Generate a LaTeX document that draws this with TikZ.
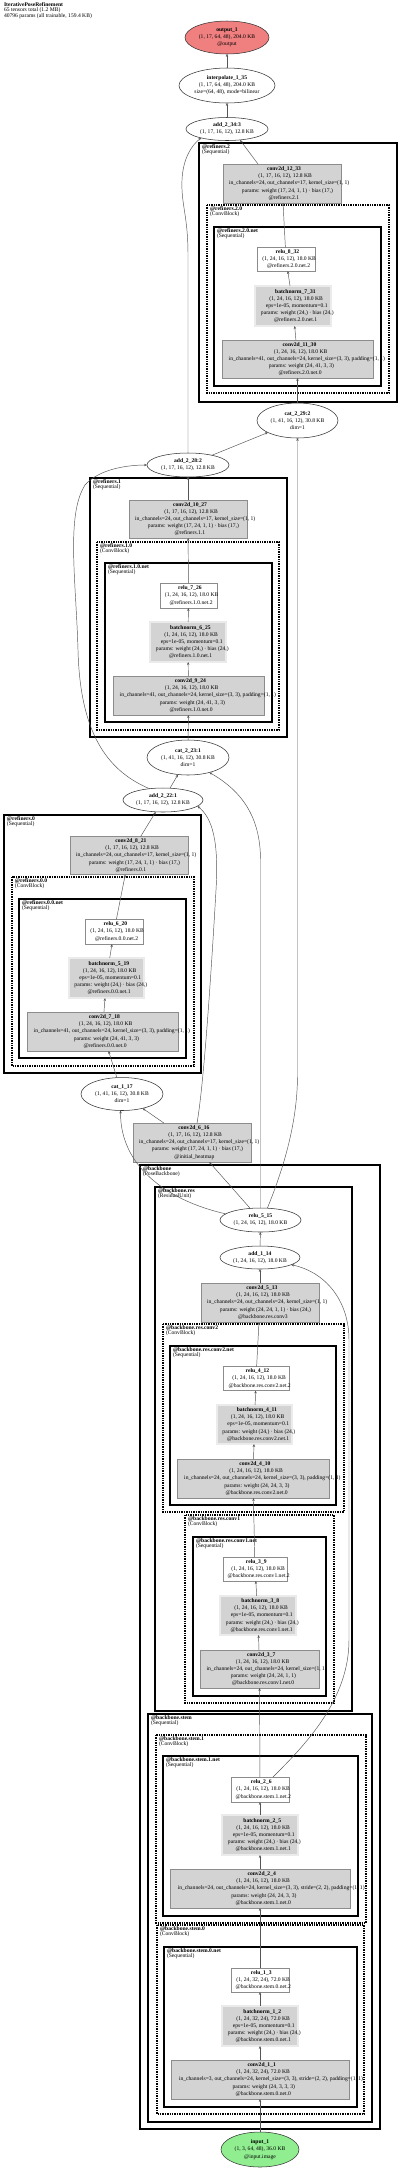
\documentclass[tikz,border=0pt]{standalone}
\usepackage{fontspec}
\setmainfont{Liberation Serif}
\usetikzlibrary{shapes.geometric,arrows.meta,calc}
\definecolor{lgray}{HTML}{D3D3D3}
\definecolor{bdgray}{HTML}{8C8C8C}
\definecolor{edgec}{HTML}{555555}
\definecolor{outred}{HTML}{F08080}
\definecolor{ingreen}{HTML}{90EE90}
\newsavebox\lnbox
\newcommand\Ln[1]{\sbox\lnbox{#1}\makebox[0pt][l]{\hspace{-0.44\wd\lnbox}\usebox\lnbox}}
\newcommand\Lc[1]{\makebox[0pt][c]{#1}}
\newcommand\nfs{\fontsize{4.2}{5.35}\selectfont}
\newcommand\lfs{\fontsize{4.2}{4}\selectfont}
\newcommand\five[5]{\Ln{\textbf{#1}}\\\Ln{#2}\\\Ln{#3}\\\Ln{#4}\\\Ln{#5}}
\newcommand\three[3]{\Ln{\textbf{#1}}\\\Ln{#2}\\\Ln{#3}}
\newcommand\bnt[3]{\five{#1}{#2}{eps=1e-05, momentum=0.1}{params: weight (24,) · bias (24,)}{#3}}
\newcommand\clus[8]{\draw[#6] (#2,#3) rectangle (#4,#5); \node[clabel] (#1) at (#2+3,#3+1.5) {\textbf{#7}\\#8};}
\tikzset{
  every node/.style={font=\nfs, inner sep=0pt, outer sep=0pt},
  sz/.style 2 args={minimum width=#1*0.75pt, minimum height=#2*0.75pt},
  gbox/.style={rectangle, draw=bdgray, fill=lgray, line width=0.5pt, align=center},
  wbox/.style={rectangle, draw=bdgray, fill=white, line width=0.5pt, align=center},
  bnbox/.style={gbox, draw=bdgray!85!black, double=lgray!45, double distance=0.9pt, line width=0.5pt},
  ell/.style={ellipse, draw=black!80, fill=white, line width=0.4pt, align=center},
  seqtop/.style={draw=black, line width=1.4pt},
  seq/.style={draw=black, line width=0.95pt},
  cblk/.style={draw=black, line width=0.9pt, dash pattern=on 1.1pt off 0.7pt},
  clabel/.style={anchor=north west, align=left, font=\lfs},
  edge/.style={draw=edgec, line width=0.35pt, -{Stealth[length=2.2pt,width=1.8pt]}},
}
\begin{document}
\begin{tikzpicture}[x=0.75pt, y=-0.75pt]
\fill[white] (0,0) rectangle (400,2168);
\useasboundingbox (0,0) rectangle (400,2168);

\node[anchor=north west, align=left, font=\fontsize{4.2}{3.8}\selectfont] (title) at (4,2.2)
  {\textbf{IterativePoseRefinement}\\65 tensors total (1.2 MB)\\40796 params (all trainable, 159.4 KB)};

% clusters
\clus{cR2}{199}{143}{397}{402}{seqtop}{@refiners.2}{(Sequential)}
\clus{cR20}{207}{205}{389}{393}{cblk}{@refiners.2.0}{(ConvBlock)}
\clus{cR20n}{214}{227}{381}{386}{seq}{@refiners.2.0.net}{(Sequential)}
\clus{cR1}{90}{478}{287}{737}{seqtop}{@refiners.1}{(Sequential)}
\clus{cR10}{97}{542}{279}{730}{cblk}{@refiners.1.0}{(ConvBlock)}
\clus{cR10n}{105}{563}{272}{722}{seq}{@refiners.1.0.net}{(Sequential)}
\clus{cR0}{4}{815}{201}{1073}{seqtop}{@refiners.0}{(Sequential)}
\clus{cR00}{12}{877}{194}{1066}{cblk}{@refiners.0.0}{(ConvBlock)}
\clus{cR00n}{19}{899}{186}{1058}{seq}{@refiners.0.0.net}{(Sequential)}
\clus{cB}{140}{1165}{380}{2129}{seqtop}{@backbone}{(PoseBackbone)}
\clus{cBr}{155}{1187}{352}{1711}{seq}{@backbone.res}{(ResidualUnit)}
\clus{cBr2}{163}{1324}{344}{1512}{cblk}{@backbone.res.conv2}{(ConvBlock)}
\clus{cBr2n}{170}{1346}{336}{1505}{seq}{@backbone.res.conv2.net}{(Sequential)}
\clus{cBr1}{185}{1515}{334}{1703}{cblk}{@backbone.res.conv1}{(ConvBlock)}
\clus{cBr1n}{193}{1537}{326}{1696}{seq}{@backbone.res.conv1.net}{(Sequential)}
\clus{cBs}{148}{1714}{372}{2122}{seq}{@backbone.stem}{(Sequential)}
\clus{cBs1}{156}{1735}{366}{1923}{cblk}{@backbone.stem.1}{(ConvBlock)}
\clus{cBs1n}{163}{1756}{358}{1916}{seq}{@backbone.stem.1.net}{(Sequential)}
\clus{cBs0}{157}{1925}{364}{2114}{cblk}{@backbone.stem.0}{(ConvBlock)}
\clus{cBs0n}{164}{1947}{357}{2107}{seq}{@backbone.stem.0.net}{(Sequential)}

% ellipses
\node[ell, fill=outred, sz={84}{33}] (out1) at (227,37.5) {\Lc{\textbf{output\_1}}\\\Lc{(1, 17, 64, 48), 204.0 KB}\\\Lc{@output}};
\node[ell, sz={96}{35}] (interp) at (227,85.5) {\Lc{\textbf{interpolate\_1\_35}}\\\Lc{(1, 17, 64, 48), 204.0 KB}\\\Lc{size=(64, 48), mode=bilinear}};
\node[ell, sz={82}{23}] (add2343) at (227,129) {\Lc{\textbf{add\_2\_34:3}}\\\Lc{(1, 17, 16, 12), 12.8 KB}};
\node[ell, sz={81}{35}] (cat2292) at (297.5,420.5) {\Lc{\textbf{cat\_2\_29:2}}\\\Lc{(1, 41, 16, 12), 30.8 KB}\\\Lc{dim=1}};
\node[ell, sz={82}{24}] (add2228) at (188,465) {\Lc{\textbf{add\_2\_28:2}}\\\Lc{(1, 17, 16, 12), 12.8 KB}};
\node[ell, sz={82}{35}] (cat2231) at (188,757.5) {\Lc{\textbf{cat\_2\_23:1}}\\\Lc{(1, 41, 16, 12), 30.8 KB}\\\Lc{dim=1}};
\node[ell, sz={80}{24}] (add2221) at (163,800) {\Lc{\textbf{add\_2\_22:1}}\\\Lc{(1, 17, 16, 12), 12.8 KB}};
\node[ell, sz={82}{33}] (cat117) at (122,1094) {\Lc{\textbf{cat\_1\_17}}\\\Lc{(1, 41, 16, 12), 30.8 KB}\\\Lc{dim=1}};
\node[ell, sz={81}{24}] (relu515) at (260.5,1220) {\Lc{\textbf{relu\_5\_15}}\\\Lc{(1, 24, 16, 12), 18.0 KB}};
\node[ell, sz={80}{23}] (add114) at (260,1257.5) {\Lc{\textbf{add\_1\_14}}\\\Lc{(1, 24, 16, 12), 18.0 KB}};
\node[ell, fill=ingreen, sz={78}{35}] (in1) at (260,2149.5) {\Lc{\textbf{input\_1}}\\\Lc{(1, 3, 64, 48), 36.0 KB}\\\Lc{@input.image}};

% relu boxes
\node[wbox, sz={58}{24}] (relu832) at (286,259) {\three{relu\_8\_32}{(1, 24, 16, 12), 18.0 KB}{@refiners.2.0.net.2}};
\node[wbox, sz={57}{25}] (relu726) at (188.5,595.5) {\three{relu\_7\_26}{(1, 24, 16, 12), 18.0 KB}{@refiners.1.0.net.2}};
\node[wbox, sz={58}{25}] (relu620) at (114,931.5) {\three{relu\_6\_20}{(1, 24, 16, 12), 18.0 KB}{@refiners.0.0.net.2}};
\node[wbox, sz={66}{24}] (relu412) at (256,1378.5) {\three{relu\_4\_12}{(1, 24, 16, 12), 18.0 KB}{@backbone.res.conv2.net.2}};
\node[wbox, sz={64}{24}] (relu39) at (255,1569) {\three{relu\_3\_9}{(1, 24, 16, 12), 18.0 KB}{@backbone.res.conv1.net.2}};
\node[wbox, sz={58}{25}] (relu26) at (260,1789.5) {\three{relu\_2\_6}{(1, 24, 16, 12), 18.0 KB}{@backbone.stem.1.net.2}};
\node[wbox, sz={58}{24}] (relu13) at (260,1980) {\three{relu\_1\_3}{(1, 24, 32, 24), 72.0 KB}{@backbone.stem.0.net.2}};

% batchnorm boxes
\node[bnbox, sz={76}{40}] (bn731) at (293,306) {\bnt{batchnorm\_7\_31}{(1, 24, 16, 12), 18.0 KB}{@refiners.2.0.net.1}};
\node[bnbox, sz={76}{40}] (bn625) at (188,642) {\bnt{batchnorm\_6\_25}{(1, 24, 16, 12), 18.0 KB}{@refiners.1.0.net.1}};
\node[bnbox, sz={75}{40}] (bn519) at (106.5,978) {\bnt{batchnorm\_5\_19}{(1, 24, 16, 12), 18.0 KB}{@refiners.0.0.net.1}};
\node[bnbox, sz={75}{39}] (bn411) at (254.5,1424.5) {\bnt{batchnorm\_4\_11}{(1, 24, 16, 12), 18.0 KB}{@backbone.res.conv2.net.1}};
\node[bnbox, sz={76}{39}] (bn38) at (258,1615.5) {\bnt{batchnorm\_3\_8}{(1, 24, 16, 12), 18.0 KB}{@backbone.res.conv1.net.1}};
\node[bnbox, sz={76}{40}] (bn25) at (260,1835) {\bnt{batchnorm\_2\_5}{(1, 24, 16, 12), 18.0 KB}{@backbone.stem.1.net.1}};
\node[bnbox, sz={76}{40}] (bn12) at (260,2026) {\bnt{batchnorm\_1\_2}{(1, 24, 32, 24), 72.0 KB}{@backbone.stem.0.net.1}};

% conv boxes
\node[gbox, sz={118}{39}] (conv1233) at (282,183.5) {\five{conv2d\_12\_33}{(1, 17, 16, 12), 12.8 KB}{in\_channels=24, out\_channels=17, kernel\_size=(1, 1)}{params: weight (17, 24, 1, 1) · bias (17,)}{@refiners.2.1}};
\node[gbox, sz={151}{38}] (conv1130) at (297.5,359) {\five{conv2d\_11\_30}{(1, 24, 16, 12), 18.0 KB}{in\_channels=41, out\_channels=24, kernel\_size=(3, 3), padding=(1, 1)}{params: weight (24, 41, 3, 3)}{@refiners.2.0.net.0}};
\node[gbox, sz={118}{38}] (conv1027) at (188,519) {\five{conv2d\_10\_27}{(1, 17, 16, 12), 12.8 KB}{in\_channels=24, out\_channels=17, kernel\_size=(1, 1)}{params: weight (17, 24, 1, 1) · bias (17,)}{@refiners.1.1}};
\node[gbox, sz={151}{39}] (conv924) at (188.5,695.5) {\five{conv2d\_9\_24}{(1, 24, 16, 12), 18.0 KB}{in\_channels=41, out\_channels=24, kernel\_size=(3, 3), padding=(1, 1)}{params: weight (24, 41, 3, 3)}{@refiners.1.0.net.0}};
\node[gbox, sz={118}{38}] (conv821) at (129,855.5) {\five{conv2d\_8\_21}{(1, 17, 16, 12), 12.8 KB}{in\_channels=24, out\_channels=17, kernel\_size=(1, 1)}{params: weight (17, 24, 1, 1) · bias (17,)}{@refiners.0.1}};
\node[gbox, sz={151}{39}] (conv718) at (102.5,1031.5) {\five{conv2d\_7\_18}{(1, 24, 16, 12), 18.0 KB}{in\_channels=41, out\_channels=24, kernel\_size=(3, 3), padding=(1, 1)}{params: weight (24, 41, 3, 3)}{@refiners.0.0.net.0}};
\node[gbox, sz={118}{39}] (conv616) at (192,1142.5) {\five{conv2d\_6\_16}{(1, 17, 16, 12), 12.8 KB}{in\_channels=24, out\_channels=17, kernel\_size=(1, 1)}{params: weight (17, 24, 1, 1) · bias (17,)}{@initial\_heatmap}};
\node[gbox, sz={118}{39}] (conv513) at (260,1302.5) {\five{conv2d\_5\_13}{(1, 24, 16, 12), 18.0 KB}{in\_channels=24, out\_channels=24, kernel\_size=(1, 1)}{params: weight (24, 24, 1, 1) · bias (24,)}{@backbone.res.conv3}};
\node[gbox, sz={152}{39}] (conv410) at (253,1478.5) {\five{conv2d\_4\_10}{(1, 24, 16, 12), 18.0 KB}{in\_channels=24, out\_channels=24, kernel\_size=(3, 3), padding=(1, 1)}{params: weight (24, 24, 3, 3)}{@backbone.res.conv2.net.0}};
\node[gbox, sz={119}{38}] (conv37) at (259.5,1669) {\five{conv2d\_3\_7}{(1, 24, 16, 12), 18.0 KB}{in\_channels=24, out\_channels=24, kernel\_size=(1, 1)}{params: weight (24, 24, 1, 1)}{@backbone.res.conv1.net.0}};
\node[gbox, sz={180}{39}] (conv24) at (260,1888.5) {\five{conv2d\_2\_4}{(1, 24, 16, 12), 18.0 KB}{in\_channels=24, out\_channels=24, kernel\_size=(3, 3), stride=(2, 2), padding=(1, 1)}{params: weight (24, 24, 3, 3)}{@backbone.stem.1.net.0}};
\node[gbox, sz={178}{39}] (conv11) at (260,2079.5) {\five{conv2d\_1\_1}{(1, 24, 32, 24), 72.0 KB}{in\_channels=3, out\_channels=24, kernel\_size=(3, 3), stride=(2, 2), padding=(1, 1)}{params: weight (24, 3, 3, 3)}{@backbone.stem.0.net.0}};

% edges
\draw[edge] (in1) -- (conv11);
\draw[edge] (conv11) -- (bn12);
\draw[edge] (bn12) -- (relu13);
\draw[edge] (relu13) -- (conv24);
\draw[edge] (conv24) -- (bn25);
\draw[edge] (bn25) -- (relu26);
\draw[edge] (relu26) -- (conv37);
\draw[edge] ($(relu26.north)+(13,0)$) .. controls (305,1745) and (349,1700) .. (349,1640) -- (349,1340) .. controls (349,1300) and (325,1272) .. (add114.347);
\draw[edge] (conv37) -- (bn38);
\draw[edge] (bn38) -- (relu39);
\draw[edge] (relu39) -- (conv410);
\draw[edge] (conv410) -- (bn411);
\draw[edge] (bn411) -- (relu412);
\draw[edge] (relu412) -- (conv513);
\draw[edge] (conv513) -- (add114);
\draw[edge] (add114) -- (relu515);
\draw[edge] (relu515) -- (conv616);
\draw[edge] (relu515.170) .. controls (165,1200) and (120,1165) .. (cat117.265);
\draw[edge] (relu515.north) -- (260.5,860) .. controls (260.5,815) and (240,790) .. (cat2231.325);
\draw[edge] (relu515.60) .. controls (285,1165) and (297.5,1120) .. (297.5,1075) -- (cat2292.south);
\draw[edge] (conv616) -- (cat117);
\draw[edge] ($(conv616.north)+(5,0)$) .. controls (204,1085) and (212,960) .. (216,890) .. controls (219,840) and (212,818) .. (add2221.350);
\draw[edge] (cat117) -- (conv718);
\draw[edge] (conv718) -- (bn519);
\draw[edge] (bn519) -- (relu620);
\draw[edge] (relu620) -- (conv821);
\draw[edge] (conv821) -- (add2221);
\draw[edge] (add2221) -- (cat2231);
\draw[edge] (add2221.140) .. controls (105,770) and (80,730) .. (78,650) .. controls (76,580) and (66,515) .. (85,485) .. controls (100,468) and (130,465) .. (add2228.west);
\draw[edge] (cat2231) -- (conv924);
\draw[edge] (conv924) -- (bn625);
\draw[edge] (bn625) -- (relu726);
\draw[edge] (relu726) -- (conv1027);
\draw[edge] (conv1027) -- (add2228);
\draw[edge] (add2228) -- (cat2292);
\draw[edge] (add2228.north) -- (188,255) .. controls (188,215) and (181,205) .. (182,180) .. controls (183,158) and (192,145) .. (add2343.199);
\draw[edge] (cat2292) -- (conv1130);
\draw[edge] (conv1130) -- (bn731);
\draw[edge] (bn731) -- (relu832);
\draw[edge] (relu832) -- (conv1233);
\draw[edge] ($(conv1233.north)+(-24,0)$) -- (add2343.320);
\draw[edge] (add2343) -- (interp);
\draw[edge] (interp) -- (out1);
\end{tikzpicture}
\end{document}
